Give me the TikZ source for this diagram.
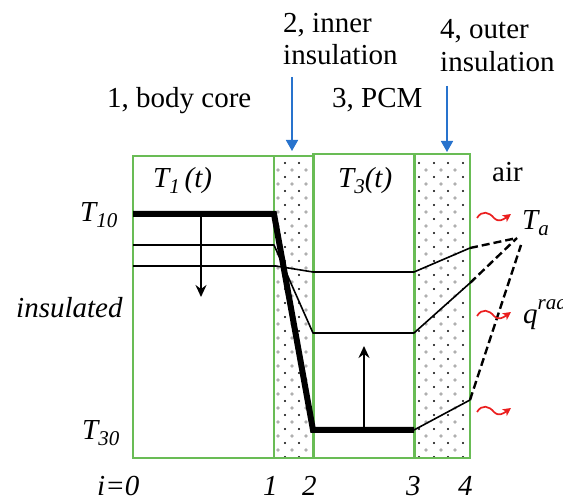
\documentclass[tikz,border=0pt]{standalone}
\usepackage{fontspec}
\setmainfont{Liberation Serif}
\usetikzlibrary{arrows.meta}
\definecolor{boxgreen}{RGB}{105,188,85}
\definecolor{arrblue}{RGB}{40,115,205}
\definecolor{dotgrey}{RGB}{175,175,175}
\definecolor{wavered}{RGB}{235,30,30}
\newcommand{\mysub}[1]{\raisebox{-0.2em}{\fontsize{21}{21}\selectfont #1}}
\newcommand{\mysup}[1]{\raisebox{0.5em}{\fontsize{21}{21}\selectfont #1}}
\begin{document}
\begin{tikzpicture}[x=1pt,y=-1pt,
  font=\fontsize{29}{32}\selectfont,
  lbl/.style={inner sep=0pt, anchor=base west},
  greenbox/.style={draw=boxgreen, line width=1.6pt, fill=white},
  greensep/.style={draw=boxgreen, line width=3pt},
  thin/.style={line width=1.6pt, line join=round},
  thick/.style={line width=6pt, line join=miter},
  dashline/.style={line width=2.4pt, dash pattern=on 8pt off 4pt},
  blackarrow/.style={line width=1.8pt, -{Stealth[length=12pt,width=11pt,inset=4pt]}},
  bluearrow/.style={arrblue, line width=1.6pt, -{Triangle[length=11pt,width=12pt]}},
  redwave/.style={wavered, line width=1.7pt, -{Stealth[length=8pt,width=8pt,inset=2pt]}}
]
\useasboundingbox (0,0) rectangle (563,502);
\clip (0,0) rectangle (563,502);
\fill[white] (0,0) rectangle (563,502);

% boxes
\path[greenbox] (133,156) rectangle (274,458);
\path[greenbox] (274,156) rectangle (313,458);
\path[greenbox] (313,154) rectangle (414,458);
\path[greenbox] (414,154) rectangle (470,458);

% dots inner insulation
\begin{scope}
\clip (275,157) rectangle (312,457);
\foreach \y in {163,177,...,460} {
  \foreach \x in {285,299} \fill[black] (\x,\y) circle (1.1);
  \foreach \x in {278,292,306} \fill[dotgrey] (\x,\y+7) circle (1.9);
}
\end{scope}
% dots outer insulation
\begin{scope}
\clip (415,155) rectangle (469,457);
\foreach \y in {163,177,...,460} {
  \foreach \x in {419,434,448,463} \fill[black] (\x,\y) circle (1.1);
  \foreach \x in {426,441,455} \fill[dotgrey] (\x,\y+7) circle (1.9);
}
\end{scope}

% redraw outlines
\draw[draw=boxgreen, line width=1.6pt] (133,156) rectangle (274,458);
\draw[draw=boxgreen, line width=1.6pt] (274,156) rectangle (313,458);
\draw[draw=boxgreen, line width=1.6pt] (313,154) rectangle (414,458);
\draw[draw=boxgreen, line width=1.6pt] (414,154) rectangle (470,458);
\draw[greensep] (313,154) -- (313,458);
\draw[greensep] (414,154) -- (414,458);

% coordinates of profile points
\coordinate (a0) at (133,214);
\coordinate (a1) at (274,214);
\coordinate (a2) at (313,430);
\coordinate (a3) at (414,430);
\coordinate (a4) at (470,400);
\coordinate (b0) at (133,245);
\coordinate (b1) at (274,245);
\coordinate (b2) at (313,333);
\coordinate (b3) at (414,333);
\coordinate (b4) at (470,283);
\coordinate (c0) at (133,266);
\coordinate (c1) at (276,266);
\coordinate (c2) at (313,272);
\coordinate (c3) at (414,272);
\coordinate (c4) at (470,248);
\coordinate (ta1) at (517,238);
\coordinate (ta2) at (521,245);

% thin profiles
\draw[thin] (b0) -- (b1) -- (b2) -- (b3) -- (b4);
\draw[thin] (c0) -- (c1) -- (c2) -- (c3) -- (c4);
\draw[thin] (a3) -- (a4);
% thick profile
\draw[thick] (a0) -- (a1) -- (a2) -- (a3);
% dashed to ambient
\draw[dashline] (c4) -- (ta1);
\draw[dashline] (b4) -- (ta1);
\draw[dashline] (a4) -- (ta2);

% arrows in layers
\coordinate (d0) at (201,214);
\coordinate (d1) at (201,297);
\draw[blackarrow] (d0) -- (d1);
\coordinate (u0) at (364,430);
\coordinate (u1) at (364,346);
\draw[blackarrow] (u0) -- (u1);

% red waves
\foreach \yy in {216, 314, 410} {
  \draw[redwave] (477,\yy+2) .. controls (482,\yy-6) and (489,\yy-4) .. (494,\yy+2)
     .. controls (499,\yy+7) and (504,\yy+3) .. (511,\yy-2);
}

% top labels
\node[lbl] (inner) at (283,33) {2, inner};
\node[lbl] (innerb) at (283,65) {insulation};
\node[lbl] (outer) at (440,39) {4, outer};
\node[lbl] (outerb) at (440,72) {insulation};
\node[lbl] (core) at (107,108) {1, body core};
\node[lbl] (pcm) at (332,108) {3, PCM};
\coordinate (bl1s) at (292,77);
\coordinate (bl1e) at (292,151);
\coordinate (bl2s) at (447,86);
\coordinate (bl2e) at (447,152);
\draw[bluearrow] (bl1s) -- (bl1e);
\draw[bluearrow] (bl2s) -- (bl2e);

% labels inside
\node[lbl] (t1) at (153,188) {\itshape T\mysub{1}\,(t)};
\node[lbl] (t3) at (338,188) {\itshape T\mysub{3}(t)};
\node[lbl] (air) at (492,182) {air};
\node[lbl] (t10) at (80,222) {\itshape T\mysub{10}};
\node[lbl] (ins) at (16,318) {\itshape insulated};
\node[lbl] (t30) at (82,440) {\itshape T\mysub{30}};
\node[lbl] (ta) at (522,230) {\itshape T\mysub{a}};
\node[lbl] (qr) at (523,324) {\itshape q\mysup{rad}};

% index labels
\node[lbl] (i0) at (97,496) {\itshape i=0};
\node[lbl] (i1) at (263,496) {\itshape 1};
\node[lbl] (i2) at (302,496) {\itshape 2};
\node[lbl] (i3) at (406,496) {\itshape 3};
\node[lbl] (i4) at (458,496) {\itshape 4};
\end{tikzpicture}
\end{document}
